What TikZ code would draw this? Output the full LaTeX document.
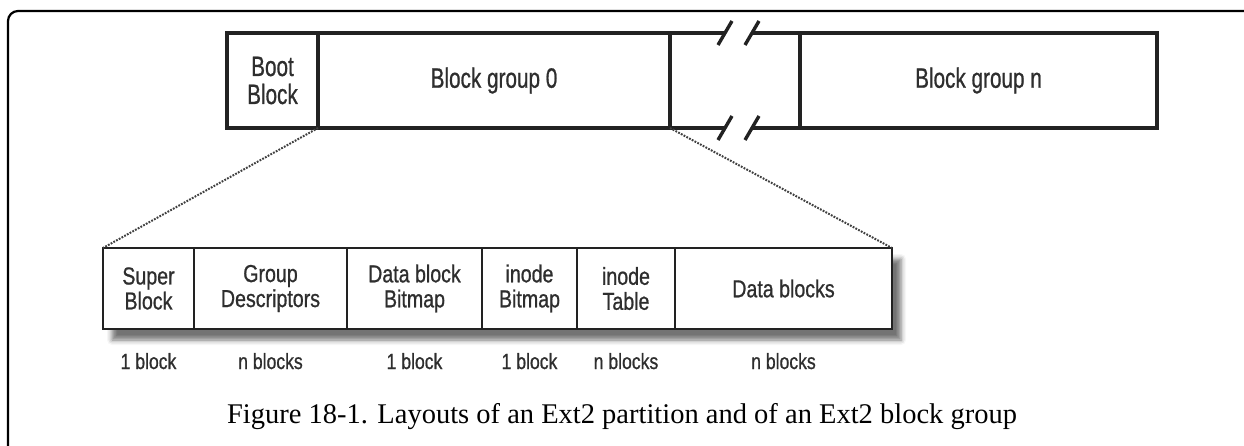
\documentclass[tikz,border=0pt]{standalone}
\usepackage{fontspec}
\setmainfont{Liberation Serif}
\newfontfamily\condsans[FakeStretch=0.8, FakeBold=0.8]{Liberation Sans}
\newfontfamily\condtall[FakeStretch=0.74, FakeBold=0.8]{Liberation Sans}
\usepackage{xcolor}
\usetikzlibrary{positioning, calc, shadows.blur}

\definecolor{inkgray}{HTML}{222222}
\definecolor{textgray}{HTML}{2E2E2E}

\pgfdeclarelayer{background}
\pgfsetlayers{background,main}

\begin{document}
\begin{tikzpicture}[x=1pt, y=-1pt,
        part/.style={draw=inkgray, line width=3.4pt, inner sep=0pt, outer sep=0pt,
            minimum height=95pt, align=center, text=textgray,
            font=\condtall\fontsize{28}{28}\selectfont},
        cell/.style={draw=inkgray, line width=2.4pt, inner sep=0pt, outer sep=0pt,
            minimum height=81pt, align=center, text=textgray,
            font=\condsans\fontsize{24.5}{25}\selectfont},
        count/.style={anchor=base, text=textgray, font=\condsans\fontsize{22}{24}\selectfont},
        zoomline/.style={line width=2pt, gray!50!black, dash pattern=on 1.8pt off 1.3pt},
        brk/.style={inkgray, line width=3.4pt}]
        \useasboundingbox (0,0) rectangle (1244,446);

        % frame
        \draw[line width=2.2pt, rounded corners=10pt] (8,470) -- (8,11) -- (1270,11);

        % partition
        \node[part, minimum width=91pt, anchor=north west] (boot) at (227,33) {Boot\\Block};
        \node[part, minimum width=352pt, right=0pt of boot] (grp0) {Block group 0};
        \node[part, draw=none, minimum width=130pt, right=0pt of grp0] (gap) {};
        \node[part, minimum width=357pt, right=0pt of gap] (grpn) {Block group n};

        % break marks
        \draw[brk] (gap.north west) -- ++(55,0) coordinate (tl);
        \draw[brk] (gap.north east) -- ++(-48,0) coordinate (tr);
        \draw[brk] (gap.south west) -- ++(55,0) coordinate (bl);
        \draw[brk] (gap.south east) -- ++(-48,0) coordinate (br);
        \foreach \p in {tl, tr, bl, br}
            \draw[brk] ($(\p)+(-7,12)$) -- ++(14,-24);

        % block group
        \node[cell, minimum width=91pt, anchor=north west] (sb) at (103,248) {Super\\Block};
        \node[cell, minimum width=153pt, right=0pt of sb] (gd) {Group\\Descriptors};
        \node[cell, minimum width=135pt, right=0pt of gd] (dbb) {Data block\\Bitmap};
        \node[cell, minimum width=95pt, right=0pt of dbb] (ib) {inode\\Bitmap};
        \node[cell, minimum width=98pt, right=0pt of ib] (it) {inode\\Table};
        \node[cell, minimum width=217pt, right=0pt of it] (db) {Data blocks};

        \begin{pgfonlayer}{background}
            \path[fill=white, blur shadow={shadow xshift=9pt, shadow yshift=-11pt,
                shadow blur radius=5pt, shadow opacity=55}] (sb.north west) rectangle (db.south east);
        \end{pgfonlayer}

        % sizes
        \node[count] (c1) at ([yshift=-40pt]sb.south) {1 block};
        \node[count] (c2) at ([yshift=-40pt]gd.south) {n blocks};
        \node[count] (c3) at ([yshift=-40pt]dbb.south) {1 block};
        \node[count] (c4) at ([yshift=-40pt]ib.south) {1 block};
        \node[count] (c5) at ([yshift=-40pt]it.south) {n blocks};
        \node[count] (c6) at ([yshift=-40pt]db.south) {n blocks};

        % zoom
        \draw[zoomline] (grp0.south west) -- (sb.north west);
        \draw[zoomline] (grp0.south east) -- (db.north east);

        \node[anchor=base, font=\fontsize{28.5}{30}\selectfont] (cap) at (622,423)
            {Figure 18-1. Layouts of an Ext2 partition and of an Ext2 block group};
    \end{tikzpicture}
\end{document}
